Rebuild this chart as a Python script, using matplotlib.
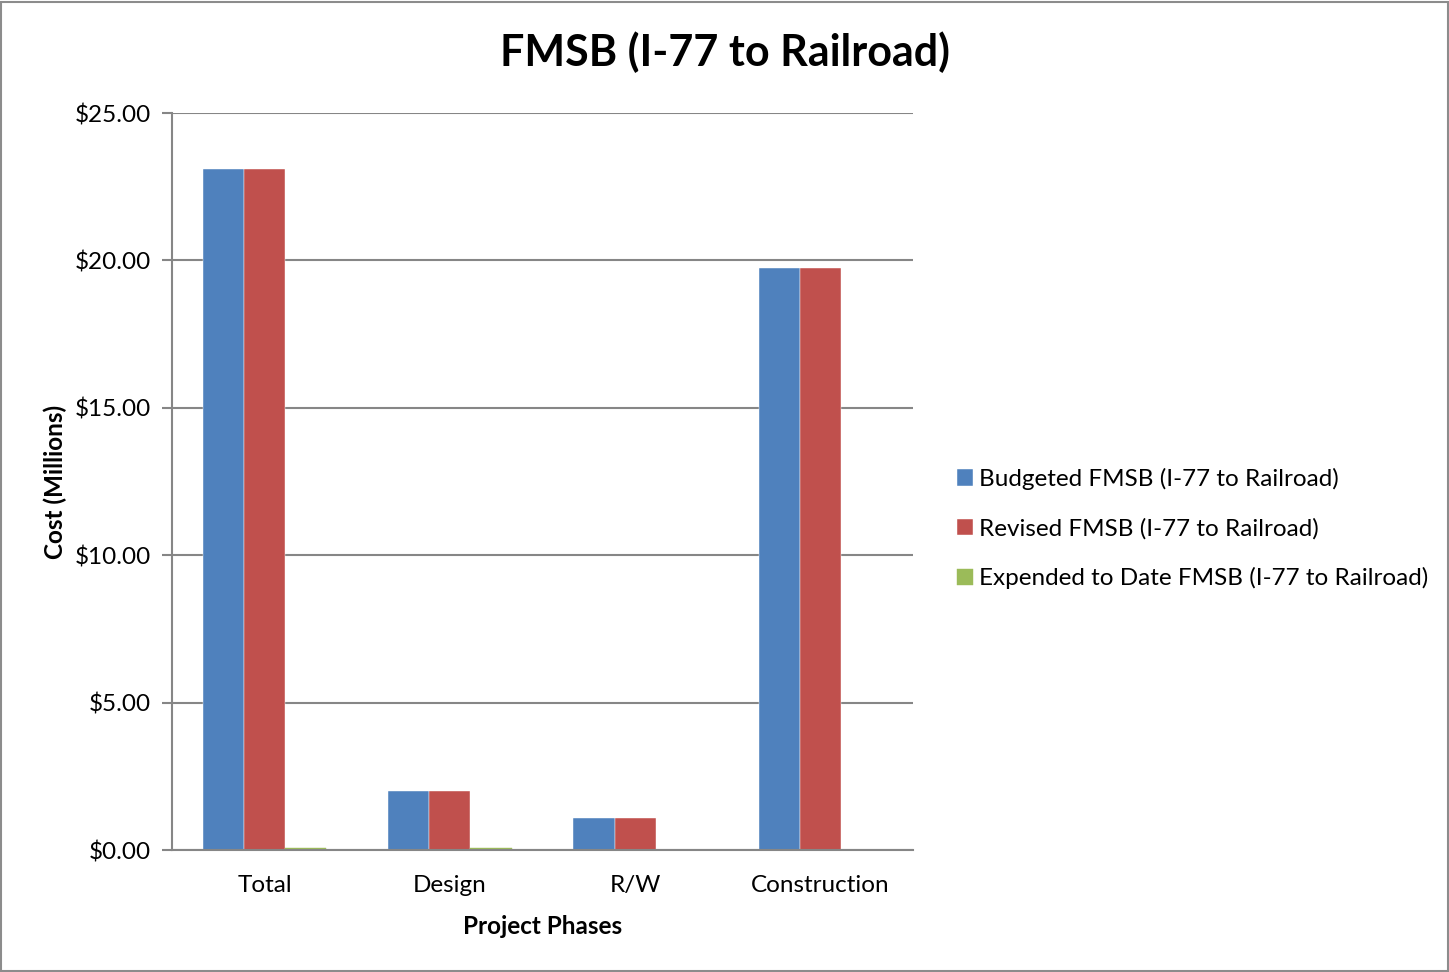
import matplotlib.pyplot as plt
import numpy as np
from matplotlib.patches import Rectangle

phases = ['Total', 'Design', 'R/W', 'Construction']
budgeted = [23.10, 2.00, 1.10, 19.75]
revised = [23.10, 2.00, 1.10, 19.75]
expended = [0.07, 0.07, 0.0, 0.0]

series_names = ['Budgeted FMSB (I-77 to Railroad)',
                'Revised FMSB (I-77 to Railroad)',
                'Expended to Date FMSB (I-77 to Railroad)']
colors = ['#4F81BD', '#C0504D', '#9BBB59']
yticks = [0, 5, 10, 15, 20, 25]

plt.rcParams['font.family'] = ['Lato', 'DejaVu Sans']

fig = plt.figure(figsize=(14.49, 9.72), dpi=100)
fig.add_artist(Rectangle((0.001, 0.001), 0.998, 0.997, transform=fig.transFigure,
                         fill=False, edgecolor='#8C8C8C', linewidth=1.5))
ax = fig.add_axes([0.1187, 0.1255, 0.5114, 0.7582])

x = np.arange(len(phases))
w = 0.222
for i, (vals, name, c) in enumerate(zip([budgeted, revised, expended], series_names, colors)):
    ax.bar(x + (i - 1) * w, vals, width=w, color=c, label=name,
           edgecolor='white' if i < 2 else c, linewidth=0.3)

ax.set_xlim(-0.5, len(phases) - 0.5)
ax.set_ylim(0, 25)
ax.set_yticks(yticks)
ax.set_yticklabels(['${:.2f}'.format(v) for v in yticks], fontsize=17.5)
ax.set_xticks(x)
ax.set_xticklabels(phases, fontsize=17.5)
ax.tick_params(axis='x', length=0, pad=18)
ax.tick_params(axis='y', length=7, width=1.5, color='#868686', pad=8)
ax.yaxis.grid(True, color='#868686', linewidth=1.5)
ax.set_axisbelow(True)
for s in ['top', 'right']:
    ax.spines[s].set_visible(False)
for s in ['left', 'bottom']:
    ax.spines[s].set_color('#868686')
    ax.spines[s].set_linewidth(1.5)

fig.text(0.5, 0.946, 'FMSB (I-77 to Railroad)', fontsize=31, fontweight='bold',
         ha='center', va='center')
ax.set_xlabel('Project Phases', fontsize=17.5, fontweight='bold', labelpad=14)
ax.set_ylabel('Cost (Millions)', fontsize=17.5, fontweight='bold', labelpad=6)

ax.legend(loc='center left', bbox_to_anchor=(1.03, 0.436), frameon=False, fontsize=17.5,
          handlelength=0.65, handleheight=0.65, handletextpad=0.25, labelspacing=1.15)

fig.savefig('out.png', dpi=100)
